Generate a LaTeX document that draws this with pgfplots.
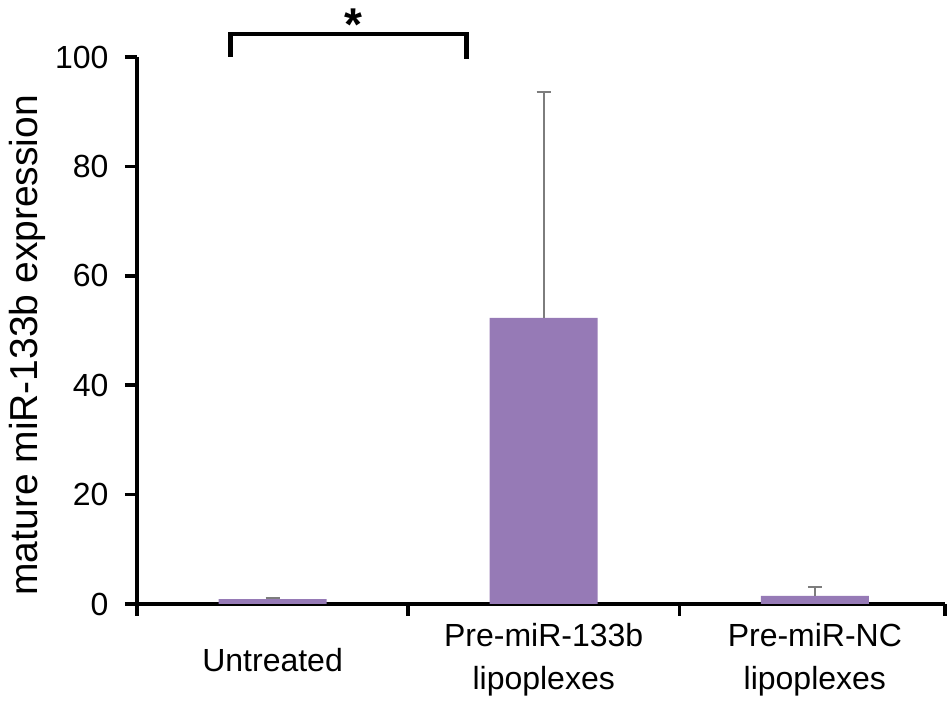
\documentclass[border=0pt]{standalone}
\usepackage{fontspec}
\setmainfont{Liberation Sans}
\usepackage{pgfplots}
\pgfplotsset{compat=1.18}
\definecolor{barpurple}{RGB}{150,122,182}
\definecolor{errgray}{RGB}{125,125,125}
\begin{document}
\begin{tikzpicture}
\begin{axis}[
  scale only axis, width=808pt, height=547pt,
  xmin=-0.5, xmax=2.48, ymin=0, ymax=100,
  clip=false,
  axis x line=bottom, axis y line=left,
  axis line style={line width=3.5pt, -},
  ytick={0,20,...,100},
  xtick={-0.5,0.5,1.5,2.48},
  xticklabels={},
  extra x ticks={0,1,2},
  extra x tick labels={Untreated, {Pre-miR-133b\\lipoplexes}, {Pre-miR-NC\\lipoplexes}},
  extra x tick style={major tick length=0pt, xticklabel style={align=center, anchor=center, yshift=-56pt}},
  every tick/.style={line width=3.5pt, black},
  major tick length=12pt, tick align=outside,
  /pgf/number format/assume math mode=true,
  every tick label/.append style={font=\fontsize{32}{43}\selectfont},
  yticklabel style={xshift=-13pt},
  ylabel={mature miR-133b expression},
  ylabel style={font=\fontsize{39}{44}\selectfont, at={(axis description cs:-0.136,0.473)}, anchor=center},
]
\addplot[ybar, bar width=108pt, fill=barpurple, draw=none,
  error bars/.cd, y dir=plus, y explicit,
  error bar style={line width=2pt, errgray},
  error mark options={rotate=90, mark size=7pt, line width=2pt, errgray}]
  coordinates {(0,0.9) +- (0,0.2) (1,52.3) +- (0,41.3) (2,1.5) +- (0,1.6)};
\draw[line width=4.5pt] (axis cs:-0.155,100) -- (axis cs:-0.155,104.2) -- (axis cs:0.715,104.2) -- (axis cs:0.715,99.6);
\node[anchor=base, font=\bfseries\fontsize{46}{50}\selectfont, inner sep=0pt, yshift=-14pt] at (axis cs:0.30,105.5) {*};
\end{axis}
\path (-137pt,-104pt) rectangle (813pt,604pt);
\end{tikzpicture}
\end{document}
